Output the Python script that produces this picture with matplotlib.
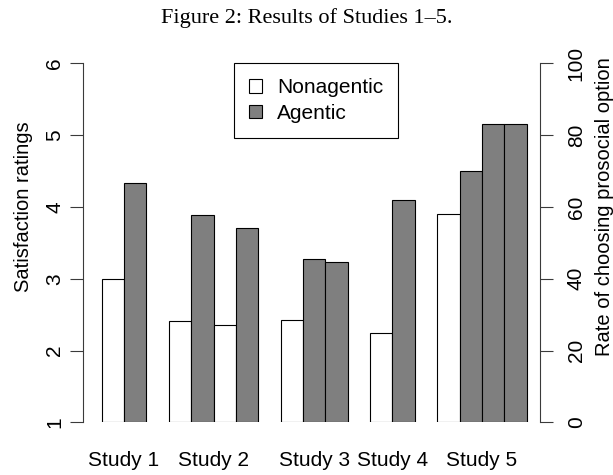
import matplotlib.pyplot as plt
from matplotlib.patches import Patch


# satisfaction ratings (left axis), studies 1-4
rating_groups = ["Study 1", "Study 2", "Study 3", "Study 4"]
rating_group_sizes = [2, 4, 3, 2]
rating_values = [3.00, 4.33, 2.41, 3.89, 2.355, 3.70, 2.42, 3.27, 3.23, 2.25, 4.10]
rating_agentic = [False, True, False, True, False, True, False, True, True, False, True]

# rate of choosing prosocial option (right axis), study 5
rate_group = "Study 5"
rate_values = [58, 70, 83, 83]
rate_agentic = [False, True, True, True]

legend_labels = ["Nonagentic", "Agentic"]
title = "Figure 2: Results of Studies 1\u20135."

WHITE = "white"
GREY = "#7f7f7f"
AXIS_COLOR = "#3a3a3a"
FS = 15

plt.rcParams["font.family"] = ["Liberation Sans", "DejaVu Sans"]


def slot_positions(group_sizes, start=1.0):
    # one slot per bar, one empty slot between groups
    positions, centers = [], []
    x = start
    for size in group_sizes:
        group = [x + i + 0.5 for i in range(size)]
        positions.extend(group)
        centers.append((group[0] + group[-1]) / 2)
        x += size + 1
    return positions, centers, x


def main():
    fig = plt.figure(figsize=(6.13, 4.75), dpi=100)
    ax = fig.add_axes([0.1354, 0.1109, 0.745, 0.7558])
    ax2 = ax.twinx()

    rating_x, rating_centers, next_x = slot_positions(rating_group_sizes)
    rate_x, rate_centers, _ = slot_positions([len(rate_values)], start=next_x)

    ax.bar(
        rating_x,
        [v - 1 for v in rating_values],
        bottom=1,
        width=1.0,
        color=[GREY if a else WHITE for a in rating_agentic],
        edgecolor="black",
        linewidth=0.8,
    )
    ax2.bar(
        rate_x,
        rate_values,
        width=1.0,
        color=[GREY if a else WHITE for a in rate_agentic],
        edgecolor="black",
        linewidth=0.8,
    )

    ax.set_xlim(0.165, 20.58)
    ax.set_ylim(1, 6)
    ax2.set_ylim(0, 100)

    for a in (ax, ax2):
        a.spines["top"].set_visible(False)
        a.spines["bottom"].set_visible(False)
    ax.spines["right"].set_visible(False)
    ax2.spines["left"].set_visible(False)
    ax.spines["left"].set_bounds(1, 6)
    ax2.spines["right"].set_bounds(0, 100)
    ax.spines["left"].set_color(AXIS_COLOR)
    ax2.spines["right"].set_color(AXIS_COLOR)

    ax.set_yticks([1, 2, 3, 4, 5, 6])
    ax2.set_yticks([0, 20, 40, 60, 80, 100])
    ax.tick_params(axis="y", length=9.4, width=0.8, color=AXIS_COLOR,
                   labelsize=FS, pad=4, labelrotation=90)
    ax2.tick_params(axis="y", length=9.4, width=0.8, color=AXIS_COLOR,
                    labelsize=FS, pad=10, labelrotation=90)
    for lbl in ax.get_yticklabels() + ax2.get_yticklabels():
        lbl.set_verticalalignment("center")

    ax.set_xticks(rating_centers + rate_centers)
    ax.set_xticklabels(rating_groups + [rate_group], fontsize=FS)
    ax.tick_params(axis="x", length=0, pad=21)

    # both axis titles sit level with rating 4, not mid-axis
    ax.set_ylabel("Satisfaction ratings", fontsize=14.5)
    ax.yaxis.set_label_coords(-0.11, 0.6)
    ax2.set_ylabel("Rate of choosing prosocial option", fontsize=14.5, rotation=90)
    ax2.yaxis.set_label_coords(1.122, 0.6)

    handles = [
        Patch(facecolor=WHITE, edgecolor="black", linewidth=0.8),
        Patch(facecolor=GREY, edgecolor="black", linewidth=0.8),
    ]
    leg = ax.legend(
        handles,
        legend_labels,
        loc="upper left",
        bbox_to_anchor=(0.331, 1.0),
        borderaxespad=0,
        fontsize=FS,
        fancybox=False,
        framealpha=1,
        handlelength=0.6,
        handleheight=0.6,
        handletextpad=0.75,
        labelspacing=0.3,
        borderpad=0.72,
    )
    leg.get_frame().set_edgecolor("black")
    leg.get_frame().set_linewidth(0.8)

    fig.text(0.5, 0.963, title, ha="center", va="center",
             fontsize=16, family=["Liberation Serif", "DejaVu Serif"])

    fig.savefig("out.png", dpi=100)
    plt.close(fig)


if __name__ == "__main__":
    main()
